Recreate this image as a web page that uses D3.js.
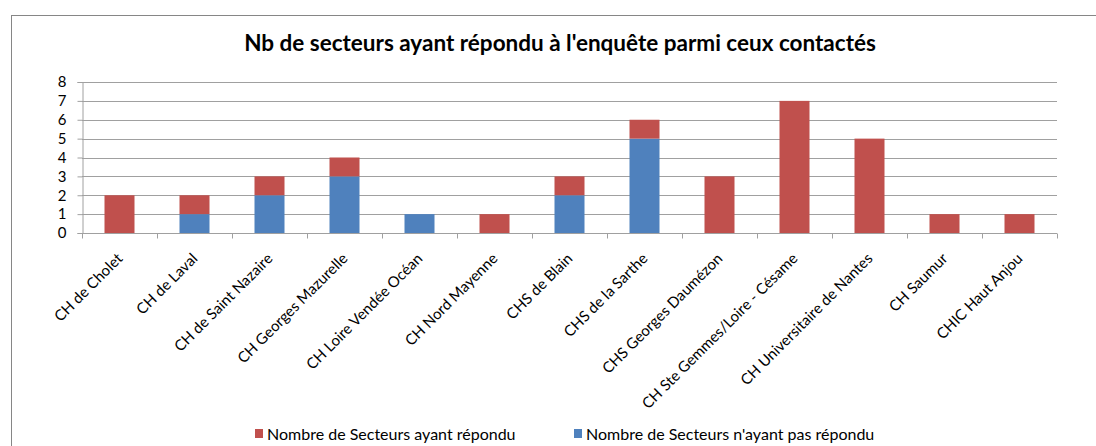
<!DOCTYPE html>
<html>
<head>
<meta charset="utf-8">
<script src="https://cdn.jsdelivr.net/npm/d3@7"></script>
<style>
  body { margin: 0; background: #fff; }
  text { font-family: Lato, "Open Sans", sans-serif; fill: #000; }
</style>
</head>
<body>
<div id="chart"></div>
<script>
const categories = ["CH de Cholet", "CH de Laval", "CH de Saint Nazaire", "CH Georges Mazurelle",
  "CH Loire Vendée Océan", "CH Nord Mayenne", "CHS de Blain", "CHS de la Sarthe",
  "CHS Georges Daumézon", "CH Ste Gemmes/Loire - Césame", "CH Universitaire de Nantes",
  "CH Saumur", "CHIC Haut Anjou"]
const nonRepondu = [0, 1, 2, 3, 1, 0, 2, 5, 0, 0, 0, 0, 0]
const repondu = [2, 1, 1, 1, 0, 1, 1, 1, 3, 7, 5, 1, 1]
const seriesNames = ["Nombre de Secteurs ayant répondu", "Nombre de Secteurs n'ayant pas répondu"]
const yTicks = [0, 1, 2, 3, 4, 5, 6, 7, 8]

const W = 1096, H = 446
const margin = ({top: 82, right: 39, bottom: 213, left: 82})
const width = W - margin.left - margin.right
const height = H - margin.top - margin.bottom

const colors = {repondu: "#C0504D", nonRepondu: "#4F81BD"}

const root = d3.select("#chart").append("svg")
    .attr("width", W)
    .attr("height", H)

// chart border
root.append("rect")
    .attr("x", 11.5).attr("y", 15.5)
    .attr("width", W).attr("height", H)
    .attr("fill", "none")
    .attr("stroke", "#868686")

root.append("text")
    .attr("x", 560).attr("y", 51)
    .attr("text-anchor", "middle")
    .style("font-size", "22.5px")
    .style("font-weight", "bold")
    .text("Nb de secteurs ayant répondu à l'enquête parmi ceux contactés")

const svg = root.append("g")
    .attr("transform", `translate(${margin.left},${margin.top})`)

const x = d3.scaleBand().domain(categories).range([0, width]).paddingInner(0.6).paddingOuter(0.3)
const xb = d3.scaleBand().domain(categories).range([0, width])
const y = d3.scaleLinear().domain([0, 8]).range([height, 0])

// gridlines
svg.append("g")
    .selectAll("line")
    .data(yTicks.slice(1))
    .join("line")
    .attr("x1", 0).attr("x2", width)
    .attr("y1", d => Math.round(y(d)) + 0.5)
    .attr("y2", d => Math.round(y(d)) + 0.5)
    .attr("stroke", "#a0a0a0")

const data = categories.map((c, i) => ({cat: c, nonRepondu: nonRepondu[i], repondu: repondu[i]}))
const stack = d3.stack().keys(["nonRepondu", "repondu"])(data)

svg.append("g")
    .selectAll("g")
    .data(stack)
    .join("g")
    .attr("fill", d => colors[d.key])
    .selectAll("rect")
    .data(d => d)
    .join("rect")
    .attr("x", d => x(d.data.cat))
    .attr("width", x.bandwidth())
    .attr("y", d => y(d[1]))
    .attr("height", d => y(d[0]) - y(d[1]))

// y axis
const yAxis = d3.axisLeft(y).tickValues(yTicks).tickSize(5).tickPadding(11)
svg.append("g")
    .attr("class", "y-axis")
    .attr("transform", "translate(0.5,0)")
    .call(yAxis)
    .call(g => g.selectAll("line, path").attr("stroke", "#a0a0a0"))
    .call(g => g.selectAll("text").style("font-size", "15px").attr("font-family", null))

// x axis: tick marks at category boundaries
const xg = svg.append("g").attr("transform", `translate(0,${Math.round(height) + 0.5})`)
xg.append("line").attr("x1", 0).attr("x2", width).attr("stroke", "#a0a0a0")
xg.selectAll(".tk")
    .data(categories.concat([null]))
    .join("line")
    .attr("class", "tk")
    .attr("x1", (d, i) => Math.round(i * xb.step()) + 0.5)
    .attr("x2", (d, i) => Math.round(i * xb.step()) + 0.5)
    .attr("y1", 0).attr("y2", 5)
    .attr("stroke", "#a0a0a0")

xg.selectAll(".lbl")
    .data(categories)
    .join("text")
    .attr("class", "lbl")
    .attr("text-anchor", "end")
    .style("font-size", "15px")
    .attr("transform", d => `translate(${xb(d) + xb.bandwidth() / 2 + 4},${26}) rotate(-45)`)
    .text(d => d)

// legend
const legend = root.append("g").attr("transform", "translate(0,434)")
const legendItems = [
  {name: seriesNames[0], color: colors.repondu, x: 255},
  {name: seriesNames[1], color: colors.nonRepondu, x: 574}
]
legendItems.forEach(it => {
  legend.append("rect").attr("x", it.x).attr("y", -5).attr("width", 8).attr("height", 9).attr("fill", it.color)
  legend.append("text").attr("x", it.x + 12).attr("y", 5.5).style("font-size", "16px").text(it.name)
})
</script>
</body>
</html>
